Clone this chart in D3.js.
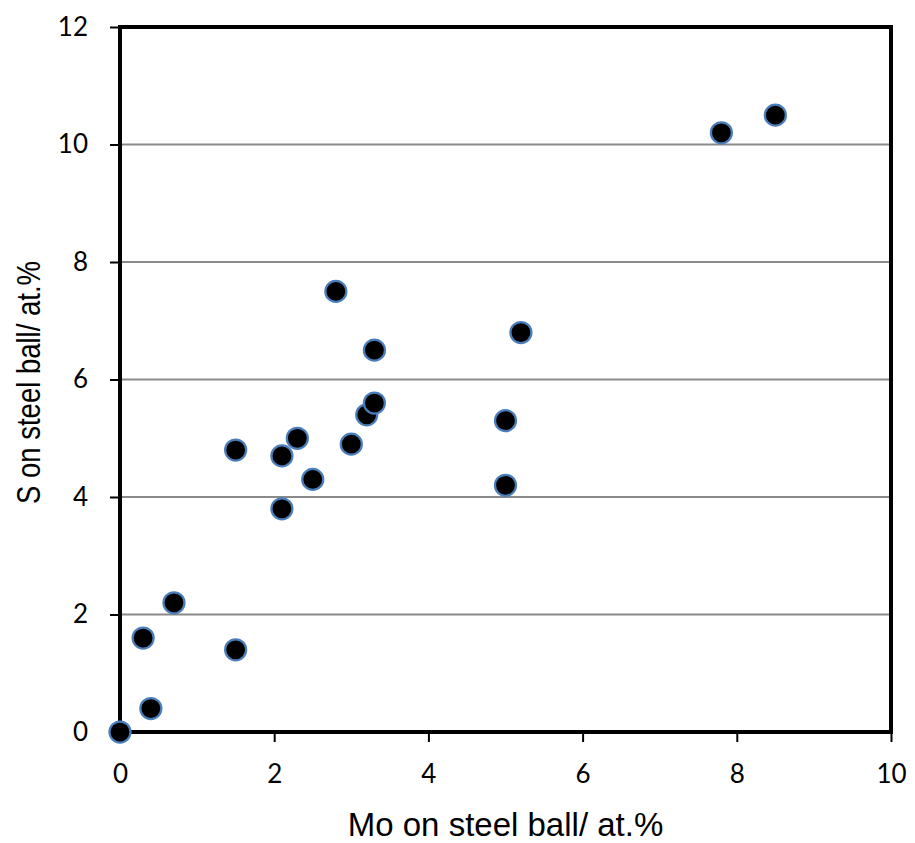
<!DOCTYPE html>
<html>
<head>
<meta charset="utf-8">
<script src="https://cdn.jsdelivr.net/npm/d3@7/dist/d3.min.js"></script>
<style>
  html, body { margin: 0; padding: 0; background: #fff; }
  svg { display: block; }
</style>
</head>
<body>
<svg id="chart" width="915" height="843"></svg>
<script>
// Mo vs S content measured on the steel ball (at.%)
const moValues = [0, 0.3, 0.4, 0.7, 1.5, 1.5, 2.1, 2.1, 2.3, 2.5, 2.8, 3.0, 3.2, 3.3, 3.3, 5.0, 5.0, 5.2, 7.8, 8.5];
const sValues  = [0, 1.6, 0.4, 2.2, 1.4, 4.8, 3.8, 4.7, 5.0, 4.3, 7.5, 4.9, 5.4, 5.6, 6.5, 4.2, 5.3, 6.8, 10.2, 10.5];
const xTicks = [0, 2, 4, 6, 8, 10];
const yTicks = [0, 2, 4, 6, 8, 10, 12];
const xTitle = "Mo on steel ball/ at.%";
const yTitle = "S on steel ball/ at.%";

const svg = d3.select("#chart");
const plot = { left: 120, right: 891, top: 27, bottom: 732 };

const x = d3.scaleLinear().domain([0, 10]).range([plot.left, plot.right]);
const y = d3.scaleLinear().domain([0, 12]).range([plot.bottom, plot.top]);

const tickFont = "Lato, 'Open Sans', sans-serif";
const titleFont = "'Liberation Sans', Arial, sans-serif";

// horizontal gridlines
svg.append("g")
  .selectAll("line")
  .data(yTicks.filter(t => t > 0 && t < 12))
  .join("line")
  .attr("x1", plot.left).attr("x2", plot.right)
  .attr("y1", d => y(d)).attr("y2", d => y(d))
  .attr("stroke", "#8a8a8a").attr("stroke-width", 2);

// x axis
const xAxis = svg.append("g")
  .attr("transform", `translate(0,${plot.bottom})`)
  .call(d3.axisBottom(x).tickValues(xTicks).tickSize(10).tickPadding(23).tickFormat(d3.format("d")));
xAxis.select(".domain").remove();
xAxis.selectAll(".tick line").attr("stroke", "#000").attr("stroke-width", 2);
xAxis.selectAll(".tick text")
  .attr("font-family", tickFont).attr("font-size", 26).attr("fill", "#000");

// y axis
const yAxis = svg.append("g")
  .attr("transform", `translate(${plot.left},0)`)
  .call(d3.axisLeft(y).tickValues(yTicks).tickSize(10).tickPadding(22).tickFormat(d3.format("d")));
yAxis.select(".domain").remove();
yAxis.selectAll(".tick line").attr("stroke", "#000").attr("stroke-width", 2);
yAxis.selectAll(".tick text")
  .attr("font-family", tickFont).attr("font-size", 26).attr("fill", "#000");

// plot frame
svg.append("rect")
  .attr("x", plot.left).attr("y", plot.top)
  .attr("width", plot.right - plot.left).attr("height", plot.bottom - plot.top)
  .attr("fill", "none").attr("stroke", "#000").attr("stroke-width", 4);

// data points
svg.append("g")
  .selectAll("circle")
  .data(moValues.map((m, i) => ({ mo: m, s: sValues[i] })))
  .join("circle")
  .attr("cx", d => x(d.mo))
  .attr("cy", d => y(d.s))
  .attr("r", 10.5)
  .attr("fill", "#000")
  .attr("stroke", "#4a7ebb")
  .attr("stroke-width", 2.25);

// axis titles
svg.append("text")
  .attr("x", (plot.left + plot.right) / 2).attr("y", 836)
  .attr("text-anchor", "middle")
  .attr("font-family", titleFont).attr("font-size", 33).attr("fill", "#000")
  .text(xTitle);

svg.append("text")
  .attr("transform", `translate(40,${(plot.top + plot.bottom) / 2 + 3}) scale(1.2,1) rotate(-90)`)
  .attr("text-anchor", "middle")
  .attr("font-family", titleFont).attr("font-size", 27.5).attr("fill", "#000")
  .text(yTitle);
</script>
</body>
</html>
